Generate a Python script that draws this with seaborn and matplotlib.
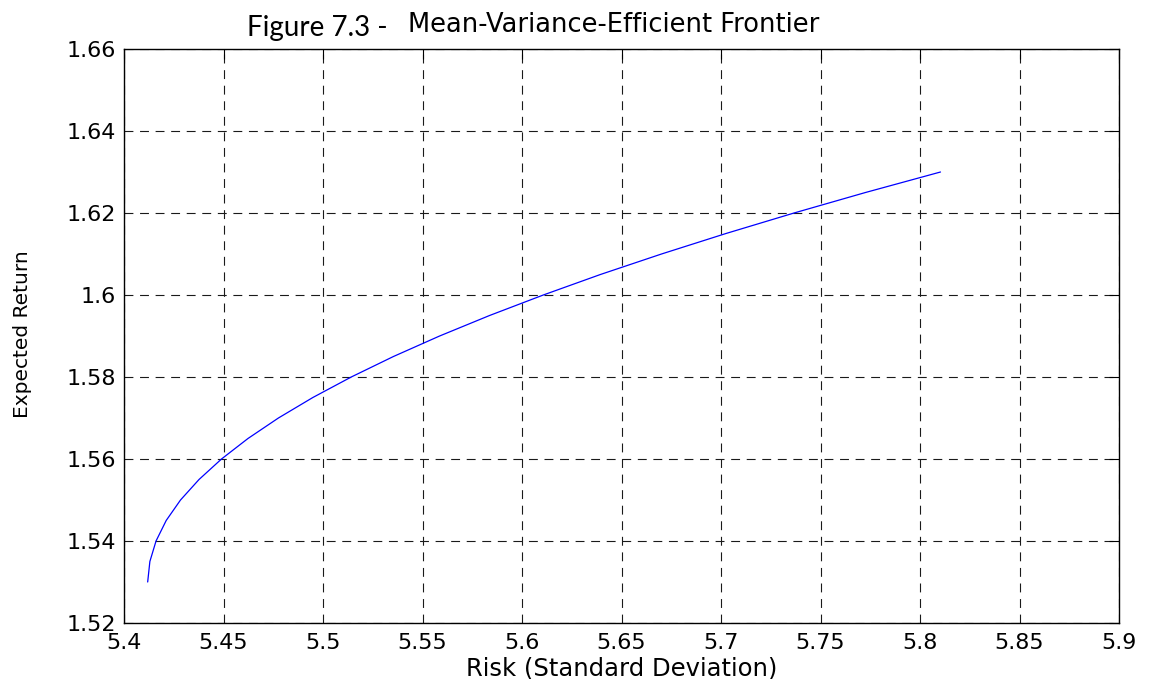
import numpy as np
import pandas as pd
import seaborn as sns
import matplotlib
matplotlib.use("Agg")
import matplotlib.pyplot as plt

# Efficient frontier: portfolio risk (std. dev.) and expected return
risk = [5.4119, 5.4130, 5.4161, 5.4212, 5.4284, 5.4377, 5.4490, 5.4623,
        5.4776, 5.4949, 5.5142, 5.5354, 5.5586, 5.5837, 5.6107, 5.6394,
        5.6701, 5.7025, 5.7367, 5.7726, 5.8103]
expected_return = [1.530, 1.535, 1.540, 1.545, 1.550, 1.555, 1.560, 1.565,
                   1.570, 1.575, 1.580, 1.585, 1.590, 1.595, 1.600, 1.605,
                   1.610, 1.615, 1.620, 1.625, 1.630]

x_ticks = [5.4, 5.45, 5.5, 5.55, 5.6, 5.65, 5.7, 5.75, 5.8, 5.85, 5.9]
x_tick_labels = ["5.4", "5.45", "5.5", "5.55", "5.6", "5.65", "5.7", "5.75", "5.8", "5.85", "5.9"]
y_ticks = [1.52, 1.54, 1.56, 1.58, 1.60, 1.62, 1.64, 1.66]
y_tick_labels = ["1.52", "1.54", "1.56", "1.58", "1.6", "1.62", "1.64", "1.66"]

frontier = pd.DataFrame({"risk": risk, "ret": expected_return})

sns.set_theme(style="white")
plt.rcParams["font.family"] = ["DejaVu Sans"]

W, H = 1151, 679
fig = plt.figure(figsize=(W / 100, H / 100), dpi=100)
fig.patch.set_facecolor("white")
ax = fig.add_axes([124 / W, (H - 623) / H, 995 / W, 574 / H])
ax.set_facecolor("white")

sns.lineplot(data=frontier, x="risk", y="ret", sort=False, color="#0000ff",
             linewidth=0.9, ax=ax)

ax.set_xlim(5.4, 5.9)
ax.set_ylim(1.52, 1.66)
ax.set_xticks(x_ticks)
ax.set_xticklabels(x_tick_labels)
ax.set_yticks(y_ticks)
ax.set_yticklabels(y_tick_labels)

ax.grid(True, color="#1a1a1a", linewidth=0.8, linestyle=(0, (8, 6)))
ax.set_axisbelow(True)

for side in ["left", "right", "top", "bottom"]:
    ax.spines[side].set_visible(True)
    ax.spines[side].set_color("black")
    ax.spines[side].set_linewidth(1.0)

ax.tick_params(axis="both", which="major", direction="in", length=7.5, width=0.8,
               color="black", top=True, right=True, labelsize=16,
               labelcolor="black")
ax.tick_params(axis="x", pad=7)
ax.tick_params(axis="y", pad=6)

ax.set_xlabel("Risk (Standard Deviation)", fontsize=17.5, color="black", labelpad=3)
ax.set_ylabel("")
fig.text(23 / W, 1 - 334 / H, "Expected Return", rotation=90, fontsize=14.5,
         color="black", ha="center", va="center")

# Title built from two runs of text
fig.text(247 / W, 1 - 36 / H, "Figure 7.3 - ", fontsize=20, family="Lato",
         color="black", ha="left", va="baseline")
fig.text(408 / W, 1 - 32 / H, "Mean-Variance-Efficient Frontier", fontsize=18.5,
         color="black", ha="left", va="baseline")

fig.savefig("out.png", dpi=100, facecolor="white")
